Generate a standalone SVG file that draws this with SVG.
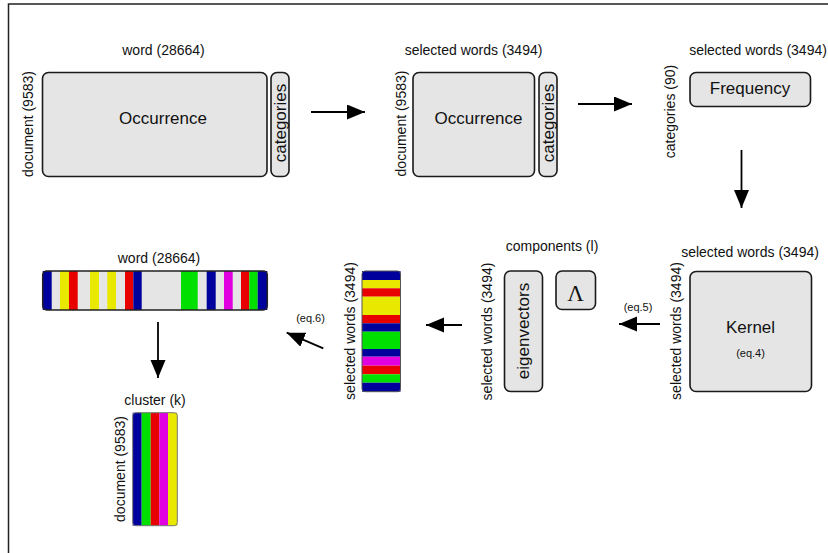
<svg xmlns="http://www.w3.org/2000/svg" width="828" height="553" viewBox="0 0 828 553">
<defs>
<style>
text{font-family:"Liberation Sans",Arial,sans-serif;fill:#111}
.lab{font-size:14px}
.big{font-size:17px}
.sm{font-size:11px}
.box{fill:#e5e5e5;stroke:#1a1a1a;stroke-width:1.6}
.out{fill:none;stroke:#222;stroke-width:1.5}
.con{stroke:#000;stroke-width:1.8;fill:none}
.b{fill:#00009c}.y{fill:#e8e800}.r{fill:#e80000}.g{fill:#00e000}.m{fill:#e000e0}.w{fill:#e5e5e5}
</style>
<marker id="ah" markerUnits="userSpaceOnUse" markerWidth="20" markerHeight="16" refX="18" refY="7.5" orient="auto">
<path d="M0,0 L18,7.5 L0,15 Z" fill="#000"/>
</marker>
</defs>
<rect x="0" y="0" width="828" height="553" fill="#fff"/>
<path d="M8.5,553 L8.5,4 L828,4" fill="none" stroke="#222" stroke-width="1.5"/>

<g id="occurrence-full">
<rect class="box" x="42.5" y="72.5" width="224.5" height="104" rx="6"/>
<rect class="box" x="271" y="72.5" width="18" height="104" rx="6"/>
<text class="lab" x="163.5" y="55" text-anchor="middle">word (28664)</text>
<text class="lab" transform="translate(33,124) rotate(-90)" text-anchor="middle">document (9583)</text>
<text class="big" x="163" y="124" text-anchor="middle">Occurrence</text>
<text class="big" transform="translate(285.5,123) rotate(-90)" text-anchor="middle">categories</text>
</g>

<g id="occurrence-selected">
<rect class="box" x="413" y="72.5" width="121.5" height="104" rx="6"/>
<rect class="box" x="539" y="72.5" width="18" height="104" rx="6"/>
<text class="lab" x="473.5" y="55" text-anchor="middle">selected words (3494)</text>
<text class="lab" transform="translate(405.5,123.5) rotate(-90)" text-anchor="middle">document (9583)</text>
<text class="big" x="478.5" y="124" text-anchor="middle">Occurrence</text>
<text class="big" transform="translate(553.5,123) rotate(-90)" text-anchor="middle">categories</text>
</g>

<g id="frequency">
<rect class="box" x="690" y="72.5" width="120.5" height="34" rx="6"/>
<text class="lab" x="758" y="55" text-anchor="middle">selected words (3494)</text>
<text class="lab" transform="translate(675,111.5) rotate(-90)" text-anchor="middle">categories (90)</text>
<text class="big" x="750" y="94" text-anchor="middle">Frequency</text>
</g>

<g id="kernel">
<rect class="box" x="690" y="271.5" width="121.5" height="120" rx="6"/>
<text class="lab" x="750" y="257" text-anchor="middle">selected words (3494)</text>
<text class="lab" transform="translate(681,331) rotate(-90)" text-anchor="middle">selected words (3494)</text>
<text class="big" x="750.5" y="333" text-anchor="middle">Kernel</text>
<text class="sm" x="750.5" y="357" text-anchor="middle">(eq.4)</text>
</g>

<g id="eigen">
<rect class="box" x="504.5" y="271" width="38" height="120.5" rx="6"/>
<rect class="box" x="556" y="271" width="39.5" height="38.5" rx="6"/>
<text class="lab" x="552" y="251" text-anchor="middle">components (l)</text>
<text class="lab" transform="translate(492,331.5) rotate(-90)" text-anchor="middle">selected words (3494)</text>
<text class="big" transform="translate(529,331) rotate(-90)" text-anchor="middle">eigenvectors</text>
<text x="575.5" y="301" text-anchor="middle" style="font-family:'Liberation Serif','Times New Roman',serif;font-size:23px">Λ</text>
</g>

<g id="selected-bar">
<rect class="b" x="362" y="271" width="38.5" height="9"/>
<rect class="y" x="362" y="280" width="38.5" height="8.3"/>
<rect class="r" x="362" y="288.3" width="38.5" height="8.4"/>
<rect class="y" x="362" y="296.7" width="38.5" height="18.3"/>
<rect class="r" x="362" y="315" width="38.5" height="8.3"/>
<rect class="b" x="362" y="323.3" width="38.5" height="8.4"/>
<rect class="g" x="362" y="331.7" width="38.5" height="17.3"/>
<rect class="b" x="362" y="349" width="38.5" height="7.7"/>
<rect class="m" x="362" y="356.7" width="38.5" height="9"/>
<rect class="r" x="362" y="365.7" width="38.5" height="8.6"/>
<rect class="g" x="362" y="374.3" width="38.5" height="8.4"/>
<rect class="b" x="362" y="382.7" width="38.5" height="9"/>
<rect class="out" x="362" y="271" width="38.5" height="120.7" rx="3" style="stroke:#555;stroke-width:1"/>
<text class="lab" transform="translate(355,331) rotate(-90)" text-anchor="middle">selected words (3494)</text>
</g>

<g id="word-bar">
<rect class="w" x="42.7" y="271" width="224.6" height="39"/>
<rect class="b" x="42.7" y="271" width="9" height="39"/>
<rect class="y" x="60" y="271" width="9" height="39"/>
<rect class="r" x="69" y="271" width="8.7" height="39"/>
<rect class="y" x="90" y="271" width="9" height="39"/>
<rect class="y" x="107.3" y="271" width="8.7" height="39"/>
<rect class="r" x="125" y="271" width="8.3" height="39"/>
<rect class="b" x="133.3" y="271" width="8.4" height="39"/>
<rect class="g" x="181" y="271" width="16.7" height="39"/>
<rect class="b" x="206.7" y="271" width="9" height="39"/>
<rect class="m" x="224" y="271" width="8.7" height="39"/>
<rect class="r" x="241" y="271" width="8.3" height="39"/>
<rect class="g" x="249.3" y="271" width="8.4" height="39"/>
<rect class="b" x="257.7" y="271" width="9.6" height="39"/>
<rect class="out" x="42.7" y="271" width="224.6" height="39" rx="4"/>
<text class="lab" x="159" y="263" text-anchor="middle">word (28664)</text>
</g>

<g id="cluster-bar">
<rect class="b" x="132.7" y="412.7" width="9" height="113"/>
<rect class="g" x="141.7" y="412.7" width="9" height="113"/>
<rect class="r" x="150.7" y="412.7" width="8.6" height="113"/>
<rect class="m" x="159.3" y="412.7" width="8.7" height="113"/>
<rect class="y" x="168" y="412.7" width="9.3" height="113"/>
<rect class="out" x="132.7" y="412.7" width="44.6" height="113" rx="3" style="stroke:#777;stroke-width:1"/>
<text class="lab" x="155" y="405" text-anchor="middle">cluster (k)</text>
<text class="lab" transform="translate(125,469) rotate(-90)" text-anchor="middle">document (9583)</text>
</g>

<g id="connectors">
<line class="con" x1="311" y1="112" x2="365" y2="112" marker-end="url(#ah)"/>
<line class="con" x1="578" y1="104" x2="632" y2="104" marker-end="url(#ah)"/>
<line class="con" x1="741.5" y1="150" x2="741.5" y2="208" marker-end="url(#ah)"/>
<line class="con" x1="660" y1="324" x2="619" y2="324" marker-end="url(#ah)"/>
<text class="sm" x="638" y="311" text-anchor="middle">(eq.5)</text>
<line class="con" x1="462" y1="325" x2="426" y2="325" marker-end="url(#ah)"/>
<line class="con" x1="323.3" y1="348.3" x2="286.7" y2="332.7" marker-end="url(#ah)"/>
<text class="sm" x="310.5" y="322" text-anchor="middle">(eq.6)</text>
<line class="con" x1="158" y1="322" x2="158" y2="378" marker-end="url(#ah)"/>
</g>
</svg>
